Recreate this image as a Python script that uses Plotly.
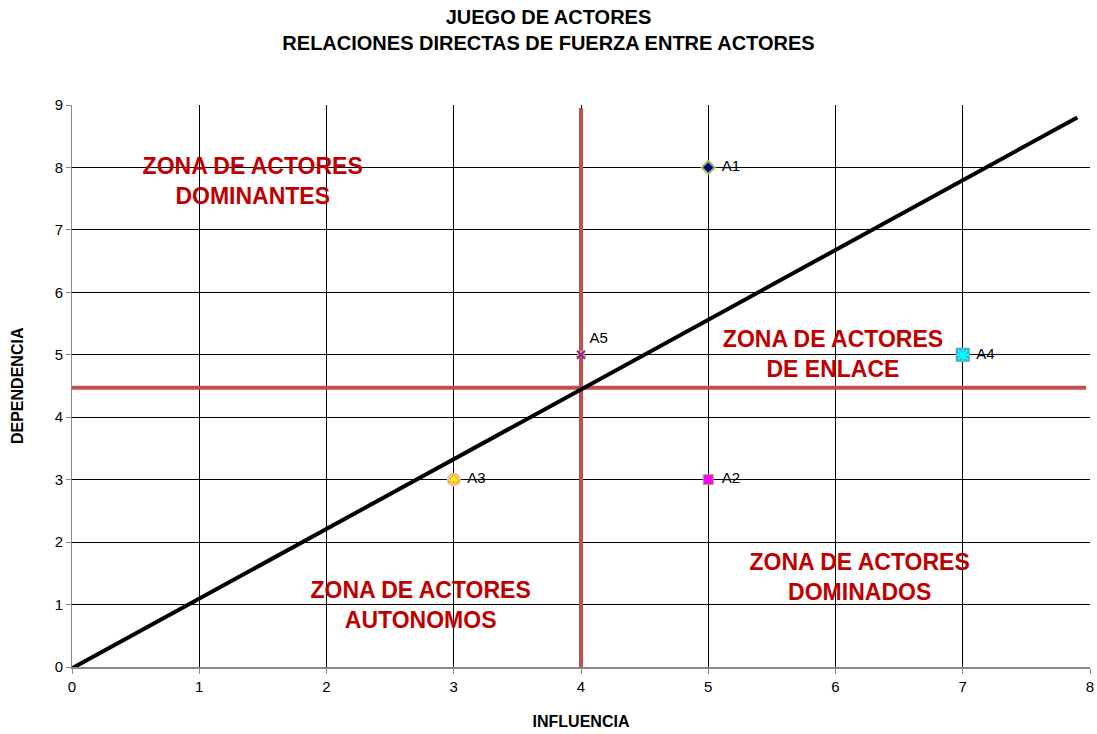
import plotly.graph_objects as go

# Actors
actors = ["A1", "A2", "A3", "A4", "A5"]
influencia = [5, 5, 3, 7, 4]
dependencia = [8, 3, 3, 5, 5]

# Diagonal reference line endpoints
diag_x = [-0.07, 7.9]
diag_y = [-0.1, 8.8]

# Quadrant divider lines
h_line_x = [-0.04, 7.97]
h_line_y = [4.47, 4.47]
v_line_x = [4, 4]
v_line_y = [-0.05, 8.95]

# Zone labels
zone_text = ["<b>ZONA DE ACTORES<br>DOMINANTES</b>", "<b>ZONA DE ACTORES<br>DE ENLACE</b>",
             "<b>ZONA DE ACTORES<br>DOMINADOS</b>", "<b>ZONA DE ACTORES<br>AUTONOMOS</b>"]
zone_x = [1.42, 5.98, 6.19, 2.74]
zone_y = [7.75, 4.97, 1.4, 0.95]

FONT = "Liberation Sans, Arial, sans-serif"
RED_LINE = "#C0504D"

fig = go.Figure()

fig.add_trace(go.Scatter(x=h_line_x, y=h_line_y, mode="lines",
                         line=dict(color=RED_LINE, width=4), hoverinfo="skip"))
fig.add_trace(go.Scatter(x=v_line_x, y=v_line_y, mode="lines",
                         line=dict(color=RED_LINE, width=4), hoverinfo="skip"))
fig.add_trace(go.Scatter(x=diag_x, y=diag_y, mode="lines",
                         line=dict(color="black", width=4), hoverinfo="skip"))

# marker styles per actor
styles = [
    dict(symbol="diamond", color="#000080", size=10, line=dict(color="#9BBB59", width=2)),
    dict(symbol="square", color="#FF00FF", size=10, line=dict(color="#9BBB59", width=1)),
    dict(symbol="triangle-up", color="#FFFF00", size=10, line=dict(color="#F79646", width=1)),
    dict(symbol="asterisk", color="#00FFFF", size=11, line=dict(color="#00FFFF", width=2)),
    dict(symbol="x-thin", color="#7030A0", size=8, line=dict(color="#7030A0", width=2)),
]
backs = [
    None,
    None,
    dict(symbol="circle", color="#FABF8F", size=14, line=dict(width=0)),
    dict(symbol="square", color="#4BACC6", size=14, line=dict(width=0)),
    dict(symbol="triangle-up", color="#F79646", size=10, line=dict(width=0)),
]

for i, a in enumerate(actors):
    if backs[i] is not None:
        fig.add_trace(go.Scatter(x=[influencia[i]], y=[dependencia[i]], mode="markers",
                                 marker=backs[i], hoverinfo="skip", cliponaxis=False))
    fig.add_trace(go.Scatter(x=[influencia[i]], y=[dependencia[i]], mode="markers",
                             marker=styles[i], cliponaxis=False, name=a))

# actor labels (invisible marker sets the label offset)
fig.add_trace(go.Scatter(x=influencia[:4], y=dependencia[:4], mode="markers+text",
                         marker=dict(size=20, opacity=0), text=actors[:4],
                         textposition="middle right",
                         textfont=dict(family=FONT, size=15, color="black"),
                         cliponaxis=False, hoverinfo="skip"))
fig.add_trace(go.Scatter(x=influencia[4:], y=dependencia[4:], mode="markers+text",
                         marker=dict(size=12, opacity=0), text=actors[4:],
                         textposition="top right",
                         textfont=dict(family=FONT, size=15, color="black"),
                         cliponaxis=False, hoverinfo="skip"))

fig.add_trace(go.Scatter(x=zone_x, y=zone_y, mode="text", text=zone_text,
                         textfont=dict(family=FONT, size=23, color="#C00000"),
                         hoverinfo="skip", cliponaxis=False))

fig.update_layout(
    width=1097, height=734,
    margin=dict(l=72, r=7, t=105, b=67, autoexpand=False),
    paper_bgcolor="white", plot_bgcolor="white",
    showlegend=False,
    font=dict(family=FONT, size=15, color="black"),
    title=dict(text="<b>JUEGO DE ACTORES<br>RELACIONES DIRECTAS DE FUERZA ENTRE ACTORES</b>",
               x=0.5, xanchor="center", y=0.967, yanchor="top",
               font=dict(family=FONT, size=20, color="black")),
    xaxis=dict(range=[0, 8], dtick=1, showgrid=True, gridcolor="#000000", gridwidth=1,
               showline=True, linecolor="#888888", linewidth=2, automargin=False,
               ticks="outside", ticklen=5, tickcolor="#888888", zeroline=False,
               ticklabeloverflow="allow",
               tickfont=dict(family=FONT, size=15, color="black"),
               title=dict(text="<b>INFLUENCIA</b>", standoff=22,
                          font=dict(family=FONT, size=16, color="black"))),
    yaxis=dict(range=[0, 9], dtick=1, showgrid=True, gridcolor="#000000", gridwidth=1,
               showline=True, linecolor="#888888", linewidth=1, automargin=False,
               ticks="outside", ticklen=5, tickcolor="#888888", zeroline=False,
               ticklabeloverflow="allow",
               tickfont=dict(family=FONT, size=15, color="black")),
    annotations=[dict(text="<b>DEPENDENCIA</b>", xref="paper", yref="paper",
                      x=-0.054, y=0.5, xanchor="center", yanchor="middle",
                      textangle=-90, showarrow=False,
                      font=dict(family=FONT, size=16, color="black"))],
)

fig.write_html("out.html", config={"displayModeBar": False},
               post_script="document.body.style.margin='0';document.body.style.overflow='hidden';")
